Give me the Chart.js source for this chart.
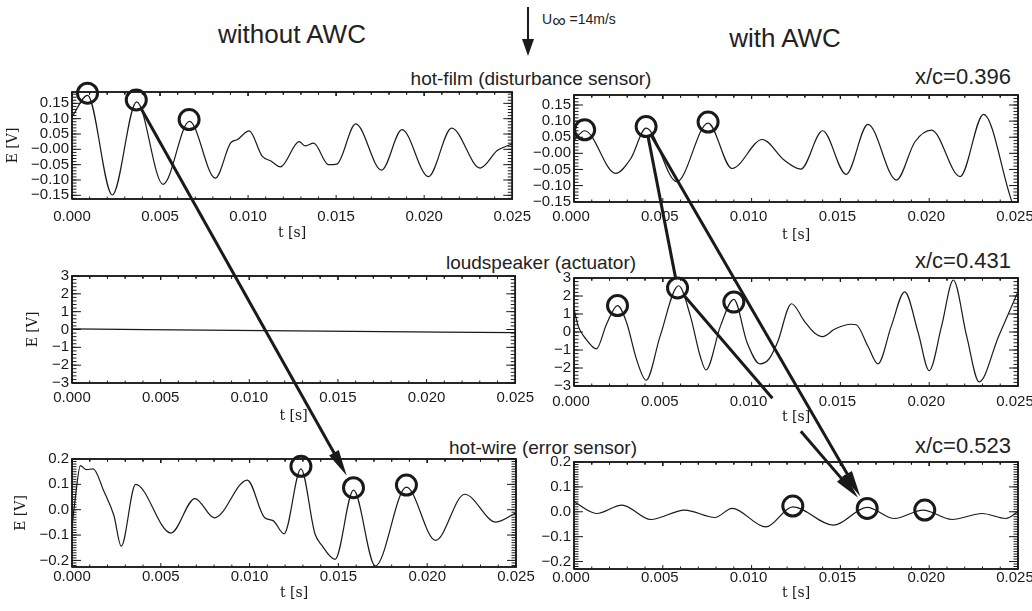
<!DOCTYPE html>
<html lang="en">
<head>
<meta charset="utf-8">
<title>AWC signals</title>
<script src="https://cdn.jsdelivr.net/npm/chart.js@4.4.1/dist/chart.umd.min.js"></script>
<style>
  html, body { margin: 0; padding: 0; background: #fff; }
  #page { position: relative; width: 1032px; height: 611px; overflow: hidden;
          font-family: 'Liberation Sans', Arial, sans-serif; color: #222; }
  #page canvas { position: absolute; }
  .txt { position: absolute; white-space: nowrap; line-height: 1; }
  .big { font-size: 26px; }
  .sub { font-size: 19px; }
  .pos { font-size: 22px; }
  .mid { transform: translateX(-50%); }
</style>
</head>
<body>
<div id="page">
  <div class="txt big mid" style="left:292px; top:21px">without AWC</div>
  <div class="txt big mid" style="left:785px; top:25px">with AWC</div>
  <div class="txt" style="left:542px; top:8px; font-size:14px">U<span style="font-size:19px; position:relative; top:3px">∞</span> =14m/s</div>

  <div class="txt sub mid" style="left:531px; top:69px">hot-film (disturbance sensor)</div>
  <div class="txt pos" style="right:21px; top:66px">x/c=0.396</div>
  <div class="txt sub mid" style="left:541px; top:253px">loudspeaker (actuator)</div>
  <div class="txt pos" style="right:21px; top:250px">x/c=0.431</div>
  <div class="txt sub mid" style="left:543px; top:438px">hot-wire (error sensor)</div>
  <div class="txt pos" style="right:21px; top:435px">x/c=0.523</div>

  <canvas id="overlay" width="1032" height="611" style="left:0; top:0"></canvas>
</div>

<script>
// ---------- data ----------
const tTicks = [0, 0.005, 0.010, 0.015, 0.020, 0.025];
const tLabels = ['0.000', '0.005', '0.010', '0.015', '0.020', '0.025'];

const filmTicks = [-0.15, -0.10, -0.05, 0, 0.05, 0.10, 0.15];
const filmLabels = ['\u22120.15', '\u22120.10', '\u22120.05', '\u22120.00', '0.05', '0.10', '0.15'];
const speakerTicks = [-3, -2, -1, 0, 1, 2, 3];
const speakerLabels = ['\u22123', '\u22122', '\u22121', '0', '1', '2', '3'];
const wireTicks = [-0.2, -0.1, 0, 0.1, 0.2];
const wireLabels = ['\u22120.2', '\u22120.1', '0.0', '0.1', '0.2'];

// hot-film, without AWC
const filmOffT = [0, 0.00088, 0.00229, 0.00367, 0.00517, 0.00667, 0.00814, 0.0090, 0.0094, 0.01006, 0.0108, 0.0113,
  0.01184, 0.0129, 0.01325, 0.01372, 0.01457, 0.01504, 0.01611, 0.01758, 0.01874, 0.02024, 0.02156, 0.02318,
  0.02415, 0.02462, 0.025];
const filmOffE = [0.106, 0.176, -0.149, 0.155, -0.114, 0.091, -0.094, 0.020, 0.032, 0.060, -0.022, -0.038,
  -0.057, 0.025, 0.011, 0.020, -0.050, -0.048, 0.083, -0.068, 0.064, -0.089, 0.069, -0.061,
  -0.004, 0.009, 0.018];
const filmOffRingT = [0.00088, 0.00365, 0.00665];
const filmOffRingE = [0.183, 0.161, 0.097];

// hot-film, with AWC
const filmOnT = [0, 0.0006, 0.00234, 0.0032, 0.00406, 0.00579, 0.00755, 0.0089, 0.0106, 0.01183, 0.01277, 0.014,
  0.01532, 0.01655, 0.01815, 0.0192, 0.02013, 0.02174, 0.02306, 0.02466, 0.025];
const filmOnE = [0.040, 0.070, -0.062, -0.016, 0.078, -0.088, 0.094, -0.047, 0.043, -0.021, -0.049, 0.070,
  -0.065, 0.090, -0.083, 0.036, 0.072, -0.072, 0.121, -0.150, -0.19];
const filmOnRingT = [0.0006, 0.00406, 0.00755];
const filmOnRingE = [0.073, 0.083, 0.097];

// loudspeaker, without AWC
const speakerOffT = [0, 0.0125, 0.025];
const speakerOffE = [0.03, -0.08, -0.18];

// loudspeaker, with AWC
const speakerOnT = [0, 0.00023, 0.0007, 0.00126, 0.00183, 0.00245, 0.00296, 0.00353, 0.00406, 0.00485, 0.00589,
  0.00655, 0.00711, 0.00743, 0.00825, 0.009, 0.00975, 0.01047, 0.01098, 0.01145, 0.01225, 0.01296, 0.01353, 0.014,
  0.01466, 0.0156, 0.01589, 0.01655, 0.01711, 0.01787, 0.01862, 0.01938, 0.02, 0.0207, 0.02136, 0.02211, 0.02281,
  0.02391, 0.025];
const speakerOnE = [1.28, 0.34, -0.42, -0.94, 0.43, 1.47, 0.53, -1.55, -2.68, -0.23, 2.57,
  0.9, -1.36, -2.11, 0.34, 1.81, -0.6, -1.77, -1.5, -0.6, 1.57, 0.62, -0.04, -0.26,
  0.15, 0.43, 0.40, -0.79, -1.77, 0.34, 2.23, -0.04, -2.15, 0.34, 2.89, -0.23, -2.77,
  -0.23, 2.23];
const speakerOnRingT = [0.00245, 0.00583, 0.009];
const speakerOnRingE = [1.47, 2.45, 1.66];

// hot-wire, without AWC
const wireOffT = [0, 0.00019, 0.00047, 0.00081, 0.00119, 0.00179, 0.00236, 0.00277, 0.00358, 0.00557, 0.00692,
  0.00802, 0.00987, 0.01085, 0.01132, 0.01194, 0.01289, 0.01368, 0.01406, 0.01481, 0.01585, 0.01708, 0.01883,
  0.02047, 0.02211, 0.02387, 0.025];
const wireOffE = [-0.069, 0.048, 0.174, 0.158, 0.161, 0.074, -0.023, -0.144, 0.100, -0.092, 0.044,
  -0.032, 0.117, -0.032, -0.043, -0.095, 0.161, -0.095, -0.140, -0.196, 0.077, -0.222, 0.089,
  -0.121, 0.061, -0.049, -0.012];
const wireOffRingT = [0.01289, 0.01585, 0.01883];
const wireOffRingE = [0.171, 0.087, 0.097];

// hot-wire, with AWC
const wireOnT = [0, 0.00128, 0.0027, 0.00432, 0.00623, 0.00794, 0.0089, 0.0108, 0.01232, 0.01461, 0.01651,
  0.01804, 0.01966, 0.02128, 0.02299, 0.02432, 0.025];
const wireOnE = [0.040, -0.007, 0.027, -0.031, 0.007, -0.023, 0.014, -0.061, 0.020, -0.054, 0.018,
  -0.027, 0.007, -0.031, -0.007, -0.027, 0.0];
const wireOnRingT = [0.01232, 0.01651, 0.01975];
const wireOnRingE = [0.023, 0.0135, 0.007];

// ---------- panels ----------
const series = [
  { t: filmOffT, e: filmOffE, ringT: filmOffRingT, ringE: filmOffRingE, ticks: filmTicks, labels: filmLabels, min: -0.162, max: 0.187, minor: 0.01 },
  { t: filmOnT, e: filmOnE, ringT: filmOnRingT, ringE: filmOnRingE, ticks: filmTicks, labels: filmLabels, min: -0.151, max: 0.181, minor: 0.01 },
  { t: speakerOffT, e: speakerOffE, ringT: [], ringE: [], ticks: speakerTicks, labels: speakerLabels, min: -3, max: 3, minor: 0.2 },
  { t: speakerOnT, e: speakerOnE, ringT: speakerOnRingT, ringE: speakerOnRingE, ticks: speakerTicks, labels: speakerLabels, min: -3, max: 3, minor: 0.2 },
  { t: wireOffT, e: wireOffE, ringT: wireOffRingT, ringE: wireOffRingE, ticks: wireTicks, labels: wireLabels, min: -0.226, max: 0.2, minor: 0.01 },
  { t: wireOnT, e: wireOnE, ringT: wireOnRingT, ringE: wireOnRingE, ticks: wireTicks, labels: wireLabels, min: -0.23, max: 0.2, minor: 0.01 }
];

// canvas box, plot area [l, t, r, b], tick label / axis title centres
const panels = [
  { left: 0,   top: 70,  w: 540, h: 175, area: [72, 92, 516, 199],    labelY: 217, titleY: 233, yTitleX: 13, shift: 0 },
  { left: 520, top: 70,  w: 526, h: 175, area: [574, 95, 1018, 202],  labelY: 217, titleY: 235, shift: -3 },
  { left: 0,   top: 255, w: 540, h: 175, area: [72, 276, 516, 383],   labelY: 398, titleY: 416, yTitleX: 33, shift: 0 },
  { left: 520, top: 255, w: 526, h: 175, area: [574, 278, 1018, 386], labelY: 402, titleY: 417, shift: -3 },
  { left: 0,   top: 440, w: 540, h: 171, area: [72, 459, 516, 567],   labelY: 577, titleY: 593, yTitleX: 21, shift: 0 },
  { left: 520, top: 440, w: 526, h: 171, area: [574, 462, 1018, 569], labelY: 577, titleY: 593, shift: -3 }
];

// arrows between rings: [panel, ring]
const links = [
  { from: [0, 1], to: [4, 1], head: true },
  { from: [1, 1], to: [3, 1], head: false },
  { from: [1, 1], to: [5, 1], head: true },
  { from: [3, 1], to: [5, 1], head: true, gap: [0.5, 0.65] }
];

const INK = '#1a1a1a';
Chart.defaults.font.family = "'Liberation Sans', Arial, sans-serif";
Chart.defaults.font.size = 15;
Chart.defaults.color = '#1a1a1a';
const serif = { family: "'DejaVu Serif', 'Liberation Serif', serif", size: 14 };

const pts = (ts, es) => ts.map((t, i) => ({ x: t, y: es[i] }));

// IDL-style box outline, in axis units
function boxOutline(s) {
  return [{ x: 0, y: s.min }, { x: 0.025, y: s.min }, { x: 0.025, y: s.max }, { x: 0, y: s.max }, { x: 0, y: s.min }];
}

// inward tick marks as broken segments (lengths in pixels, converted to axis units)
function tickMarks(s, p) {
  const [l, t, r, b] = p.area;
  const perPxT = 0.025 / (r - l), perPxE = (s.max - s.min) / (b - t);
  const out = [];
  const seg = (x1, y1, x2, y2) => { out.push({ x: x1, y: y1 }, { x: x2, y: y2 }, { x: x2, y: null }); };
  for (let j = Math.ceil(s.min / s.minor - 1e-6); j * s.minor <= s.max + 1e-9; j++) {
    const v = j * s.minor;
    seg(0, v, 4.5 * perPxT, v);
    seg(0.025, v, 0.025 - 4.5 * perPxT, v);
  }
  s.ticks.forEach(v => {
    seg(0, v, 9 * perPxT, v);
    seg(0.025, v, 0.025 - 9 * perPxT, v);
  });
  for (let j = 0; j <= 25; j++) {
    const v = j * 0.001, len = j % 5 === 0 ? 4 : 2.5;
    seg(v, s.min, v, s.min + len * perPxE);
    seg(v, s.max, v, s.max - len * perPxE);
  }
  return out;
}

const page = document.getElementById('page');
const overlay = document.getElementById('overlay');

function makePanel(p, s) {
  const cv = document.createElement('canvas');
  cv.width = p.w; cv.height = p.h;
  cv.style.left = p.left + 'px'; cv.style.top = p.top + 'px';
  page.insertBefore(cv, overlay);
  const [l, t, r, b] = p.area;
  return new Chart(cv, {
    type: 'line',
    data: {
      datasets: [
        { data: boxOutline(s), borderColor: INK, borderWidth: 1.5, pointRadius: 0, tension: 0, clip: 3 },
        { data: tickMarks(s, p), borderColor: INK, borderWidth: 1, pointRadius: 0, tension: 0,
          spanGaps: false, clip: 3 },
        { data: pts(s.t, s.e), borderColor: INK, borderWidth: 1.2, pointRadius: 0,
          cubicInterpolationMode: 'monotone', clip: 1 },
        { data: pts(s.ringT, s.ringE), showLine: false, pointRadius: 10, pointBorderWidth: 3,
          pointBorderColor: INK, pointBackgroundColor: 'rgba(0,0,0,0)', clip: false }
      ]
    },
    options: {
      responsive: false,
      animation: false,
      layout: { padding: { top: t - p.top, right: p.left + p.w - r, left: 0, bottom: 0 } },
      plugins: {
        legend: { display: false },
        tooltip: { enabled: false }
      },
      scales: {
        x: {
          type: 'linear', min: 0, max: 0.025,
          grid: { display: false, drawTicks: false },
          border: { display: false },
          afterBuildTicks: sc => { sc.ticks = tTicks.map(v => ({ value: v })); },
          afterFit: sc => { sc.height = p.top + p.h - b; },
          ticks: { autoSkip: false, maxRotation: 0, labelOffset: p.shift,
                   padding: Math.max(0, p.labelY - b - 9),
                   callback: v => tLabels[tTicks.indexOf(v)] },
          title: { display: true, text: 't [s]', font: serif, color: INK,
                   padding: { top: 0, bottom: p.top + p.h - p.titleY - 8.4 } }
        },
        y: {
          type: 'linear', min: s.min, max: s.max,
          grid: { display: false, drawTicks: false },
          border: { display: false },
          afterBuildTicks: sc => { sc.ticks = s.ticks.map(v => ({ value: v })); },
          afterFit: sc => { sc.width = l - p.left; },
          ticks: { autoSkip: false, padding: 3, callback: v => s.labels[s.ticks.indexOf(v)] },
          title: { display: p.yTitleX !== undefined, text: 'E [V]', font: serif, color: INK,
                   padding: { top: Math.max(0, (p.yTitleX || 0) - p.left - 8.4), bottom: 0 } }
        }
      }
    }
  });
}

const charts = panels.map((p, i) => makePanel(p, series[i]));

const ctx = overlay.getContext('2d');
ctx.strokeStyle = INK;
ctx.fillStyle = INK;

// box outline again on the overlay, from the chart scales
charts.forEach((c, k) => {
  const p = panels[k], s = series[k];
  const X = v => p.left + c.scales.x.getPixelForValue(v);
  const Y = v => p.top + c.scales.y.getPixelForValue(v);
  ctx.lineWidth = 1.6;
  ctx.beginPath();
  ctx.moveTo(X(0), Y(s.min));
  ctx.lineTo(X(0.025), Y(s.min));
  ctx.lineTo(X(0.025), Y(s.max));
  ctx.lineTo(X(0), Y(s.max));
  ctx.closePath();
  ctx.stroke();
});

// ---------- arrows ----------
function ringAt(k, i) {
  const c = charts[k], p = panels[k], s = series[k];
  return {
    x: p.left + c.scales.x.getPixelForValue(s.ringT[i]),
    y: p.top + c.scales.y.getPixelForValue(s.ringE[i])
  };
}

function head(tipX, tipY, ux, uy, len, hw) {
  const bx = tipX - ux * len, by = tipY - uy * len;
  ctx.beginPath();
  ctx.moveTo(tipX, tipY);
  ctx.lineTo(bx - uy * hw, by + ux * hw);
  ctx.lineTo(bx + uy * hw, by - ux * hw);
  ctx.closePath();
  ctx.fill();
}

const RING = 10;
links.forEach(lk => {
  const a = ringAt(...lk.from), b = ringAt(...lk.to);
  const dx = b.x - a.x, dy = b.y - a.y, len = Math.hypot(dx, dy);
  const ux = dx / len, uy = dy / len;
  const s0 = RING + 1;
  const s1 = len - (lk.head ? RING + 4 : RING + 1);
  const lineEnd = lk.head ? s1 - 22 : s1;
  const segs = lk.gap ? [[s0, len * lk.gap[0]], [len * lk.gap[1], lineEnd]] : [[s0, lineEnd]];
  ctx.lineWidth = 3;
  segs.forEach(([u, v]) => {
    ctx.beginPath();
    ctx.moveTo(a.x + ux * u, a.y + uy * u);
    ctx.lineTo(a.x + ux * v, a.y + uy * v);
    ctx.stroke();
  });
  if (lk.head) head(a.x + ux * s1, a.y + uy * s1, ux, uy, 26, 5.5);
});

// free-stream direction arrow
ctx.lineWidth = 2;
ctx.beginPath();
ctx.moveTo(528, 7);
ctx.lineTo(528, 42);
ctx.stroke();
head(528, 56, 0, 1, 17, 6);
</script>
</body>
</html>
